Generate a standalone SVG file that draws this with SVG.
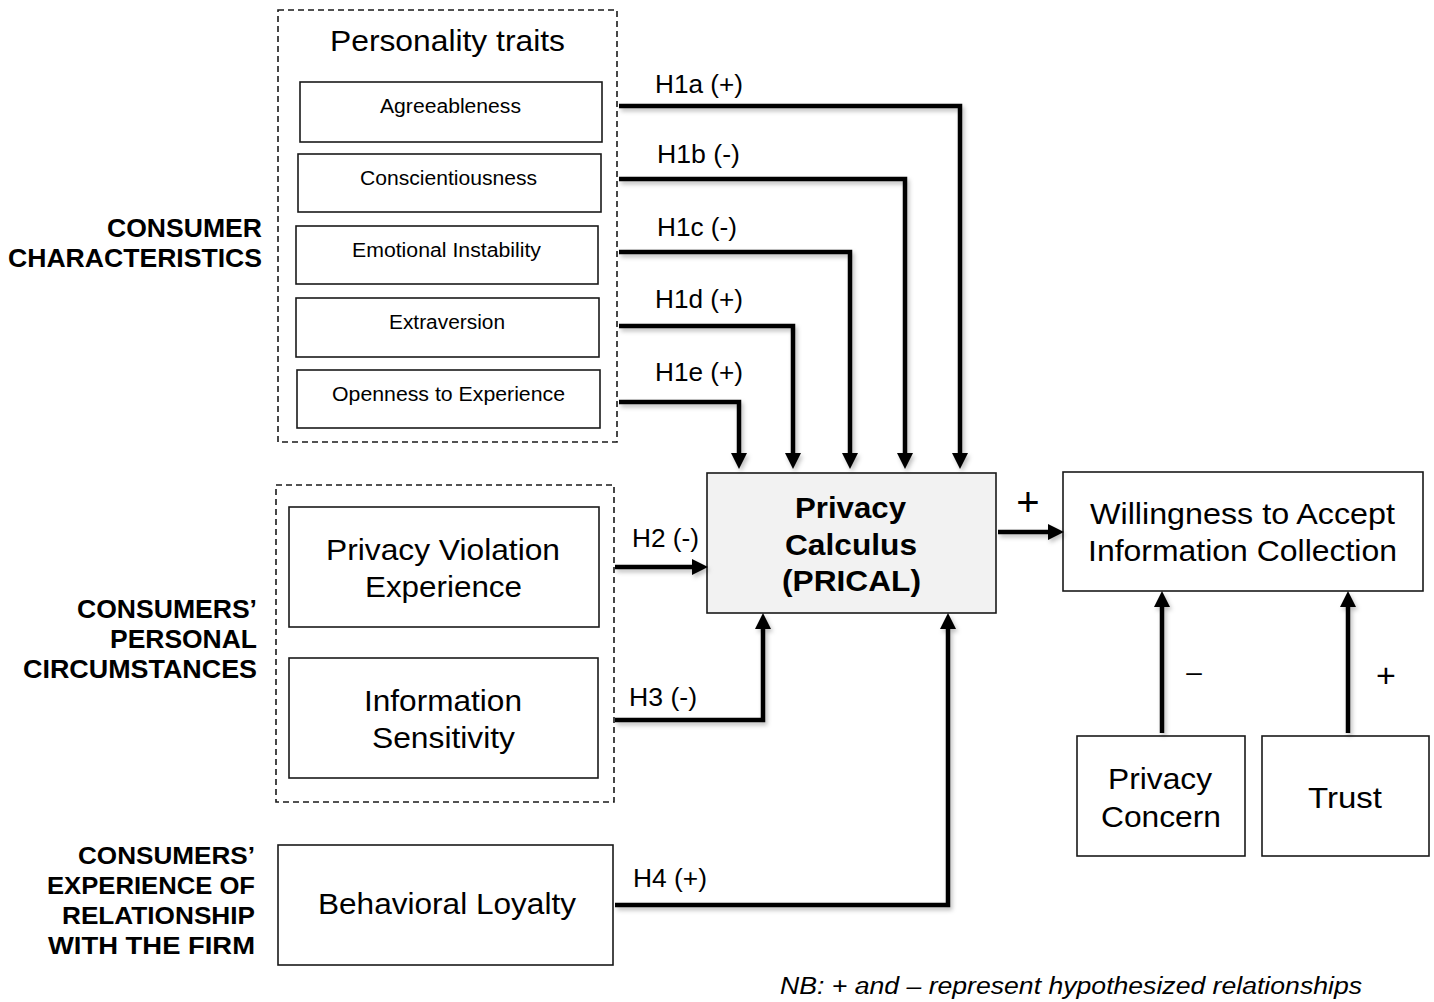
<svg xmlns="http://www.w3.org/2000/svg" width="1434" height="1002" viewBox="0 0 1434 1002">
<style>
text{font-family:"Liberation Sans",Arial,sans-serif;fill:#000}
.box{fill:#fff;stroke:#1a1a1a;stroke-width:1.6}
.dash{fill:none;stroke:#1a1a1a;stroke-width:1.6;stroke-dasharray:6 4}
.conn{fill:none;stroke:#000;stroke-width:4.5;stroke-linejoin:miter;marker-end:url(#ah)}
.lbl{font-weight:bold;font-size:25px}
.lbl2{font-weight:bold;font-size:24px}
.s20{font-size:20px}
.s28{font-size:29.5px}
.h{font-size:25px}
.b28{font-size:29px;font-weight:bold}
</style>
<defs>
<marker id="ah" markerUnits="userSpaceOnUse" markerWidth="18" markerHeight="18" refX="7" refY="8" orient="auto">
<path d="M0,0 L16,8 L0,16 Z" fill="#000"/>
</marker>
<filter id="sh" x="-10%" y="-10%" width="130%" height="130%">
<feDropShadow dx="2" dy="3" stdDeviation="2" flood-color="#000" flood-opacity="0.25"/>
</filter>
</defs>
<rect width="1434" height="1002" fill="#fff"/>

<g id="left-labels">
<text class="lbl" x="107" y="237" textLength="155" lengthAdjust="spacingAndGlyphs">CONSUMER</text>
<text class="lbl" x="8" y="267" textLength="254" lengthAdjust="spacingAndGlyphs">CHARACTERISTICS</text>
<text class="lbl" x="77" y="618" textLength="180" lengthAdjust="spacingAndGlyphs">CONSUMERS’</text>
<text class="lbl" x="110" y="648" textLength="147" lengthAdjust="spacingAndGlyphs">PERSONAL</text>
<text class="lbl" x="23" y="678" textLength="234" lengthAdjust="spacingAndGlyphs">CIRCUMSTANCES</text>
<text class="lbl2" x="78" y="864" textLength="177" lengthAdjust="spacingAndGlyphs">CONSUMERS’</text>
<text class="lbl2" x="47" y="894" textLength="208" lengthAdjust="spacingAndGlyphs">EXPERIENCE OF</text>
<text class="lbl2" x="62" y="924" textLength="193" lengthAdjust="spacingAndGlyphs">RELATIONSHIP</text>
<text class="lbl2" x="48" y="954" textLength="207" lengthAdjust="spacingAndGlyphs">WITH THE FIRM</text>
</g>

<g id="personality-traits">
<rect class="dash" x="278" y="10" width="339" height="432"/>
<text class="s28" x="330" y="51" textLength="235" lengthAdjust="spacingAndGlyphs">Personality traits</text>
</g>
<g id="agreeableness">
<rect class="box" x="300" y="82" width="302" height="60"/>
<text class="s20" x="380" y="113" textLength="141" lengthAdjust="spacingAndGlyphs">Agreeableness</text>
</g>
<g id="conscientiousness">
<rect class="box" x="298" y="154" width="303" height="58"/>
<text class="s20" x="360" y="185" textLength="177" lengthAdjust="spacingAndGlyphs">Conscientiousness</text>
</g>
<g id="emotional-instability">
<rect class="box" x="296" y="226" width="302" height="58"/>
<text class="s20" x="352" y="257" textLength="189" lengthAdjust="spacingAndGlyphs">Emotional Instability</text>
</g>
<g id="extraversion">
<rect class="box" x="296" y="298" width="303" height="59"/>
<text class="s20" x="389" y="329" textLength="116" lengthAdjust="spacingAndGlyphs">Extraversion</text>
</g>
<g id="openness">
<rect class="box" x="297" y="370" width="303" height="58"/>
<text class="s20" x="332" y="401" textLength="233" lengthAdjust="spacingAndGlyphs">Openness to Experience</text>
</g>

<g id="personal-circumstances">
<rect class="dash" x="276" y="485" width="338" height="317"/>
</g>
<g id="privacy-violation">
<rect class="box" x="289" y="507" width="310" height="120"/>
<text class="s28" x="326" y="560" textLength="234" lengthAdjust="spacingAndGlyphs">Privacy Violation</text>
<text class="s28" x="365" y="597" textLength="157" lengthAdjust="spacingAndGlyphs">Experience</text>
</g>
<g id="information-sensitivity">
<rect class="box" x="289" y="658" width="309" height="120"/>
<text class="s28" x="364" y="711" textLength="158" lengthAdjust="spacingAndGlyphs">Information</text>
<text class="s28" x="372" y="748" textLength="143" lengthAdjust="spacingAndGlyphs">Sensitivity</text>
</g>
<g id="behavioral-loyalty">
<rect class="box" x="278" y="845" width="335" height="120"/>
<text class="s28" x="318" y="914" textLength="258" lengthAdjust="spacingAndGlyphs">Behavioral Loyalty</text>
</g>

<g id="privacy-calculus">
<rect x="707" y="473" width="289" height="140" fill="#f2f2f2" stroke="#1a1a1a" stroke-width="1.6"/>
<text class="b28" x="795" y="518" textLength="111" lengthAdjust="spacingAndGlyphs">Privacy</text>
<text class="b28" x="785" y="555" textLength="132" lengthAdjust="spacingAndGlyphs">Calculus</text>
<text class="b28" x="782" y="591" textLength="139" lengthAdjust="spacingAndGlyphs">(PRICAL)</text>
</g>
<g id="willingness">
<rect class="box" x="1063" y="472" width="360" height="119"/>
<text class="s28" x="1090" y="524" textLength="305" lengthAdjust="spacingAndGlyphs">Willingness to Accept</text>
<text class="s28" x="1088" y="561" textLength="309" lengthAdjust="spacingAndGlyphs">Information Collection</text>
</g>
<g id="privacy-concern">
<rect class="box" x="1077" y="736" width="168" height="120"/>
<text class="s28" x="1108" y="789" textLength="104" lengthAdjust="spacingAndGlyphs">Privacy</text>
<text class="s28" x="1101" y="827" textLength="120" lengthAdjust="spacingAndGlyphs">Concern</text>
</g>
<g id="trust">
<rect class="box" x="1262" y="736" width="167" height="120"/>
<text class="s28" x="1308" y="808" textLength="74" lengthAdjust="spacingAndGlyphs">Trust</text>
</g>

<g id="connectors" filter="url(#sh)">
<path class="conn" d="M619,106 H960 V460"/>
<path class="conn" d="M619,179 H905 V460"/>
<path class="conn" d="M619,252 H850 V460"/>
<path class="conn" d="M619,326 H793 V460"/>
<path class="conn" d="M619,402 H739 V460"/>
<path class="conn" d="M615,567 H699"/>
<path class="conn" d="M615,720 H763 V622"/>
<path class="conn" d="M615,905 H948 V622"/>
<path class="conn" d="M998,532 H1055"/>
<path class="conn" d="M1162,733 V600"/>
<path class="conn" d="M1348,733 V600"/>
</g>

<g id="connector-labels">
<text class="h" x="655" y="93" textLength="88" lengthAdjust="spacingAndGlyphs">H1a (+)</text>
<text class="h" x="657" y="163" textLength="83" lengthAdjust="spacingAndGlyphs">H1b (-)</text>
<text class="h" x="657" y="236" textLength="80" lengthAdjust="spacingAndGlyphs">H1c (-)</text>
<text class="h" x="655" y="308" textLength="88" lengthAdjust="spacingAndGlyphs">H1d (+)</text>
<text class="h" x="655" y="381" textLength="88" lengthAdjust="spacingAndGlyphs">H1e (+)</text>
<text class="h" x="632" y="547" textLength="67" lengthAdjust="spacingAndGlyphs">H2 (-)</text>
<text class="h" x="629" y="706" textLength="68" lengthAdjust="spacingAndGlyphs">H3 (-)</text>
<text class="h" x="633" y="887" textLength="74" lengthAdjust="spacingAndGlyphs">H4 (+)</text>
<text x="1028" y="516" font-size="40" text-anchor="middle">+</text>
<text x="1194" y="681" font-size="28" text-anchor="middle">–</text>
<text x="1386" y="687" font-size="34" text-anchor="middle">+</text>
</g>

<text x="780" y="994" font-size="23" font-style="italic" textLength="582" lengthAdjust="spacingAndGlyphs">NB: + and – represent hypothesized relationships</text>
</svg>
